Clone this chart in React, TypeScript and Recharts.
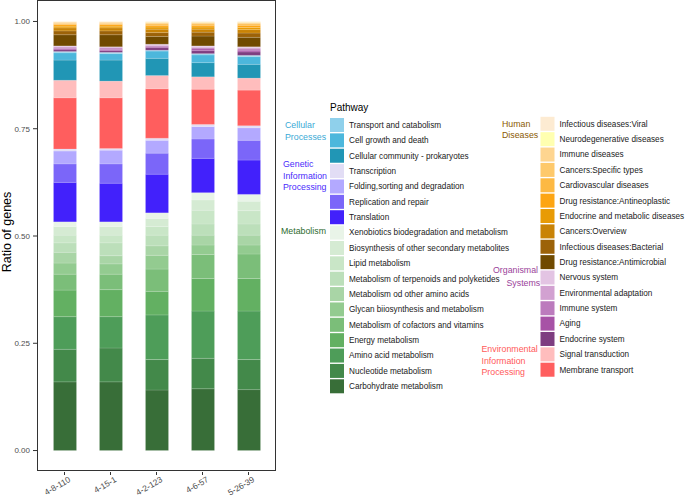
import React from "react";
import { BarChart, Bar, XAxis, YAxis } from "recharts";

const samples = ["4-8-110", "4-15-1", "4-2-123", "4-6-57", "5-26-39"];
const yTicks = [0, 0.25, 0.5, 0.75, 1];

// each group listed bottom-to-top as stacked, one value per sample
const metabolism: [string, number[]][] = [
  ["Carbohydrate metabolism", [0.16, 0.16, 0.141, 0.144, 0.142]],
  ["Nucleotide metabolism", [0.076, 0.079, 0.071, 0.071, 0.07]],
  ["Amino acid metabolism", [0.076, 0.073, 0.104, 0.11, 0.113]],
  ["Energy metabolism", [0.062, 0.063, 0.055, 0.076, 0.076]],
  ["Metabolism of cofactors and vitamins", [0.037, 0.036, 0.052, 0.056, 0.057]],
  ["Glycan biiosynthesis and metabolism", [0.026, 0.024, 0.032, 0.022, 0.021]],
  ["Metabolism od other amino acids", [0.025, 0.019, 0.022, 0.023, 0.023]],
  ["Metabolism of terpenoids and polyketides", [0.022, 0.03, 0.025, 0.026, 0.026]],
  ["Lipid metabolism", [0.018, 0.018, 0.02, 0.032, 0.031]],
  ["Biosynthesis of other secondary metabolites", [0.02, 0.02, 0.019, 0.024, 0.022]],
  ["Xenobiotics biodegradation and metabolism", [0.011, 0.011, 0.013, 0.017, 0.016]],
];

const genetic: [string, number[]][] = [
  ["Translation", [0.092, 0.09, 0.09, 0.08, 0.08]],
  ["Replication and repair", [0.043, 0.045, 0.049, 0.045, 0.046]],
  ["Folding,sorting and degradation", [0.03, 0.032, 0.03, 0.029, 0.029]],
  ["Transcription", [0.005, 0.004, 0.005, 0.005, 0.005]],
];

const environmental: [string, number[]][] = [
  ["Membrane transport", [0.119, 0.118, 0.115, 0.082, 0.083]],
  ["Signal transduction", [0.041, 0.039, 0.031, 0.029, 0.028]],
];

const cellular: [string, number[]][] = [
  ["Cellular community - prokaryotes", [0.047, 0.049, 0.04, 0.033, 0.032]],
  ["Cell growth and death", [0.017, 0.015, 0.017, 0.018, 0.018]],
  ["Transport and catabolism", [0.003, 0.003, 0.002, 0.003, 0.003]],
];

const organismal: [string, number[]][] = [
  ["Endocrine system", [0.004, 0.004, 0.006, 0.007, 0.008]],
  ["Aging", [0.003, 0.003, 0.003, 0.004, 0.004]],
  ["Immune system", [0.003, 0.003, 0.002, 0.003, 0.003]],
  ["Environmental adaptation", [0.002, 0.002, 0.001, 0.002, 0.003]],
  ["Nervous system", [0.001, 0.001, 0.002, 0.002, 0.002]],
];

const human: [string, number[]][] = [
  ["Drug resistance:Antimicrobial", [0.026, 0.028, 0.018, 0.023, 0.022]],
  ["Infectious diseases:Bacterial", [0.009, 0.009, 0.009, 0.009, 0.01]],
  ["Cancers:Overview", [0.007, 0.007, 0.008, 0.007, 0.008]],
  ["Endocrine and metabolic diseases", [0.004, 0.004, 0.005, 0.005, 0.005]],
  ["Drug resistance:Antineoplastic", [0.004, 0.004, 0.004, 0.004, 0.005]],
  ["Cardiovascular diseases", [0.002, 0.002, 0.003, 0.003, 0.003]],
  ["Cancers:Specific types", [0.002, 0.002, 0.002, 0.002, 0.002]],
  ["Immune diseases", [0.002, 0.002, 0.002, 0.002, 0.002]],
  ["Neurodegenerative diseases", [0.0005, 0.0005, 0.001, 0.001, 0.001]],
  ["Infectious diseases:Viral", [0.0005, 0.0005, 0.001, 0.001, 0.001]],
];

const colors: Record<string, string> = {
  "Carbohydrate metabolism": "#386e38",
  "Nucleotide metabolism": "#43894a",
  "Amino acid metabolism": "#4e9d59",
  "Energy metabolism": "#63b062",
  "Metabolism of cofactors and vitamins": "#7bbe79",
  "Glycan biiosynthesis and metabolism": "#93cb90",
  "Metabolism od other amino acids": "#a9d5a6",
  "Metabolism of terpenoids and polyketides": "#bcdfba",
  "Lipid metabolism": "#c9e6c7",
  "Biosynthesis of other secondary metabolites": "#d5ebd3",
  "Xenobiotics biodegradation and metabolism": "#e9f4e8",
  Translation: "#4221fb",
  "Replication and repair": "#7b66f9",
  "Folding,sorting and degradation": "#b3a9ff",
  Transcription: "#e2ddf5",
  "Membrane transport": "#ff5e5e",
  "Signal transduction": "#ffbdbd",
  "Cellular community - prokaryotes": "#2196b5",
  "Cell growth and death": "#4cb7dc",
  "Transport and catabolism": "#8fd0eb",
  "Endocrine system": "#7e3d80",
  Aging: "#a752a6",
  "Immune system": "#bc7bbd",
  "Environmental adaptation": "#d2a1d1",
  "Nervous system": "#e3c4e3",
  "Drug resistance:Antimicrobial": "#704a00",
  "Infectious diseases:Bacterial": "#9c6208",
  "Cancers:Overview": "#c98306",
  "Endocrine and metabolic diseases": "#e89b05",
  "Drug resistance:Antineoplastic": "#fda513",
  "Cardiovascular diseases": "#fdb943",
  "Cancers:Specific types": "#fec96b",
  "Immune diseases": "#fed590",
  "Neurodegenerative diseases": "#ffffb0",
  "Infectious diseases:Viral": "#fdebd2",
};

const stackOrder = [...metabolism, ...genetic, ...environmental, ...cellular, ...organismal, ...human];

// ratios: each sample's counts divided by its total
const totals = samples.map((_, i) => stackOrder.reduce((s, [, v]) => s + v[i], 0));
const data = samples.map((sample, i) => {
  const row: Record<string, any> = { sample };
  stackOrder.forEach(([name, v]) => (row[name] = v[i] / totals[i]));
  return row;
});

const FONT = "'Liberation Sans', Arial, sans-serif";

const legendCol1 = [
  { label: ["Cellular", "Processes"], color: "#3aaad6", items: cellular },
  { label: ["Genetic", "Information", "Processing"], color: "#4a2cfb", items: genetic },
  { label: ["Metabolism"], color: "#2f6b2f", items: metabolism },
];
const legendCol2 = [
  { label: ["Human", "Diseases"], color: "#8a5a00", items: human },
  { label: ["Organismal", "Systems"], color: "#9a429a", items: organismal },
  { label: ["Environmental", "Information", "Processing"], color: "#ff5a5a", items: environmental },
];

// group label placement (measured)
const col1Labels = [
  { x: [285, 285], y: [125, 136.5] },
  { x: [283, 283, 283], y: [164, 176, 187] },
  { x: [281], y: [230.5] },
];
const col2Labels = [
  { x: [502, 502], y: [123.5, 134.5] },
  { x: [493, 506.5], y: [270, 282.5] },
  { x: [481.5, 481.5, 481.5], y: [349, 361, 372] },
];

function SampleTick({ x, y, payload }: any) {
  return (
    <g transform={`translate(${x + 3.5},${y - 1}) rotate(-30)`}>
      <text x={0} y={0} dy="0.72em" textAnchor="end" fontSize={8.4} fill="#4d4d4d" fontFamily={FONT}>
        {payload.value}
      </text>
    </g>
  );
}

function LegendColumn({ groups, labels, swatchX, top }: any) {
  const pitch = 15.37;
  let row = 0;
  const out: any[] = [];
  groups.forEach((g: any, gi: number) => {
    const lab = labels[gi];
    g.label.forEach((t: string, li: number) =>
      out.push(
        <text key={`l${gi}-${li}`} x={lab.x[li]} y={lab.y[li]} dy="0.35em" fontSize={8.8} fill={g.color} fontFamily={FONT}>
          {t}
        </text>
      )
    );
    [...g.items].reverse().forEach(([name]: [string, number[]]) => {
      const y0 = top + row * pitch;
      out.push(<rect key={`r${name}`} x={swatchX} y={y0} width={14} height={14} fill={colors[name]} />);
      out.push(
        <text key={`t${name}`} x={swatchX + 19} y={y0 + 7} dy="0.35em" fontSize={8.2} fill="#1a1a1a" fontFamily={FONT}>
          {name}
        </text>
      );
      row++;
    });
  });
  return <g>{out}</g>;
}

export default function App() {
  return (
    <div style={{ position: "absolute", left: 0, top: 0, width: 685, height: 497, background: "#fff", fontFamily: FONT }}>
      <BarChart
        width={685}
        height={497}
        data={data}
        margin={{ top: 0, right: 409, bottom: 0, left: 0 }}
        barSize={23}
      >
        <XAxis
          dataKey="sample"
          interval={0}
          height={25}
          padding={{ left: 4.5, right: 4.5 }}
          tickSize={3}
          tickMargin={2}
          axisLine={false}
          tickLine={{ stroke: "#333" }}
          tick={<SampleTick />}
        />
        <YAxis
          type="number"
          domain={[-0.05, 1.05]}
          ticks={yTicks}
          tickFormatter={(v: number) => v.toFixed(2)}
          width={37}
          tickSize={4}
          tickMargin={3}
          axisLine={false}
          tickLine={{ stroke: "#333" }}
          tick={{ fontSize: 8, fill: "#4d4d4d", fontFamily: FONT }}
        />
        {stackOrder.map(([name]) => (
          <Bar
            key={name}
            dataKey={name}
            stackId="a"
            fill={colors[name]}
            stroke="#ffffff"
            strokeWidth={0.25}
            strokeOpacity={0.5}
            isAnimationActive={false}
          />
        ))}
      </BarChart>
      <div
        style={{
          position: "absolute",
          left: 37,
          top: 0,
          width: 239,
          height: 471,
          border: "1px solid #333",
          boxSizing: "border-box",
          pointerEvents: "none",
        }}
      />
      <svg width={685} height={497} style={{ position: "absolute", left: 0, top: 0, pointerEvents: "none" }}>
        <text
          transform="translate(11,232) rotate(-90)"
          textAnchor="middle"
          fontSize={12.5}
          fill="#000"
          fontFamily={FONT}
        >
          Ratio of genes
        </text>
        <text x={330} y={107.5} dy="0.35em" fontSize={10} fill="#000" fontFamily={FONT}>
          Pathway
        </text>
        <LegendColumn groups={legendCol1} labels={col1Labels} swatchX={330} top={118} />
        <LegendColumn groups={legendCol2} labels={col2Labels} swatchX={540.5} top={116.8} />
      </svg>
    </div>
  );
}
